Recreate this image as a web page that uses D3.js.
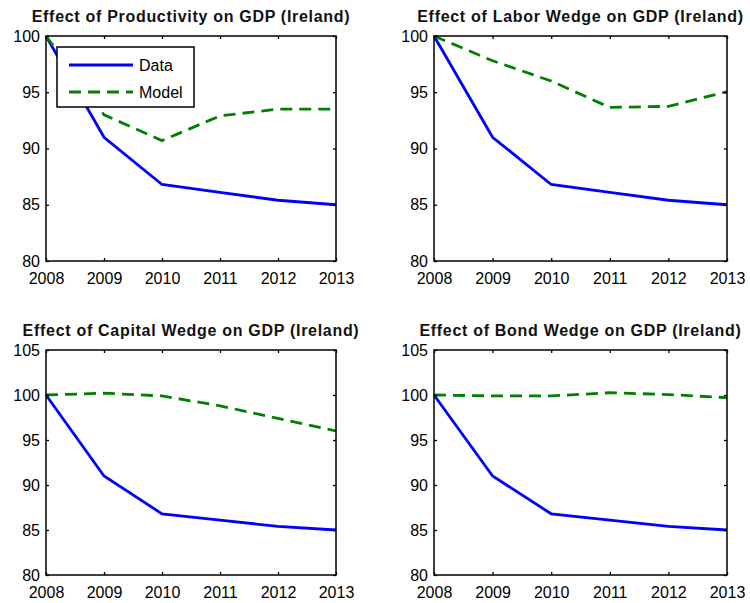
<!DOCTYPE html>
<html>
<head>
<meta charset="utf-8">
<script src="https://cdn.jsdelivr.net/npm/d3@7"></script>
<style>
  body { margin: 0; background: #fff; }
  svg { display: block; font-family: "Liberation Sans", Arial, sans-serif; }
</style>
</head>
<body>
<div id="chart"></div>
<script>
const years = [2008, 2009, 2010, 2011, 2012, 2013];
const dataGDP = [100, 91.0, 86.8, 86.1, 85.4, 85.0];
const modelProductivity = [100, 93.0, 90.7, 92.9, 93.5, 93.5];
const modelLabor = [100, 97.8, 96.0, 93.65, 93.75, 95.05];
const modelCapital = [100, 100.2, 99.9, 98.8, 97.4, 96.0];
const modelBond = [100, 99.9, 99.9, 100.25, 100.05, 99.7];
const titles = [
    "Effect of Productivity on GDP (Ireland)",
    "Effect of Labor Wedge on GDP (Ireland)",
    "Effect of Capital Wedge on GDP (Ireland)",
    "Effect of Bond Wedge on GDP (Ireland)"
];
const yTicksTop = [80, 85, 90, 95, 100];
const yTicksBottom = [80, 85, 90, 95, 100, 105];
const legendLabels = ["Data", "Model"];

const W = 750, H = 603;
const svg = d3.select("#chart").append("svg")
    .attr("width", W)
    .attr("height", H);

// panel boxes in pixels
const panels = [
    {x0: 46, x1: 336, y0: 36, y1: 261, model: modelProductivity, ticks: yTicksTop, title: titles[0], legend: true},
    {x0: 434, x1: 727, y0: 36, y1: 261, model: modelLabor, ticks: yTicksTop, title: titles[1]},
    {x0: 46, x1: 336, y0: 350, y1: 575, model: modelCapital, ticks: yTicksBottom, title: titles[2]},
    {x0: 434, x1: 727, y0: 350, y1: 575, model: modelBond, ticks: yTicksBottom, title: titles[3]}
];

const blue = "#0000ff", green = "#008000";

panels.forEach(p => {
    const x = d3.scaleLinear().domain([2008, 2013]).range([p.x0, p.x1]);
    const y = d3.scaleLinear().domain([d3.min(p.ticks), d3.max(p.ticks)]).range([p.y1, p.y0]);
    const g = svg.append("g");

    // title
    g.append("text")
        .attr("x", (p.x0 + p.x1) / 2)
        .attr("y", p.y0 - 14)
        .attr("text-anchor", "middle")
        .attr("font-size", 16)
        .attr("font-weight", "bold")
        .attr("letter-spacing", "0.7px")
        .attr("fill", "#111")
        .text(p.title);

    const line = d3.line()
        .x((d, i) => x(years[i]))
        .y(d => y(d));

    g.append("path")
        .datum(dataGDP)
        .attr("d", line)
        .attr("fill", "none")
        .attr("stroke", blue)
        .attr("stroke-width", 2.8);

    g.append("path")
        .datum(p.model)
        .attr("d", line)
        .attr("fill", "none")
        .attr("stroke", green)
        .attr("stroke-width", 2.8)
        .attr("stroke-dasharray", "12,7");

    // axes: tick marks inside, labels outside (matlab style)
    const xAxis = g.append("g")
        .attr("transform", `translate(0,${p.y1})`)
        .call(d3.axisBottom(x).tickValues(years).tickFormat(d3.format("d")).tickSize(-3).tickPadding(12));
    const xTop = g.append("g")
        .attr("transform", `translate(0,${p.y0})`)
        .call(d3.axisTop(x).tickValues(years).tickFormat("").tickSize(-3));
    const yAxis = g.append("g")
        .attr("transform", `translate(${p.x0},0)`)
        .call(d3.axisLeft(y).tickValues(p.ticks).tickSize(-3).tickPadding(6));
    const yRight = g.append("g")
        .attr("transform", `translate(${p.x1},0)`)
        .call(d3.axisRight(y).tickValues(p.ticks).tickFormat("").tickSize(-3));

    [xAxis, xTop, yAxis, yRight].forEach(a => {
        a.select(".domain").remove();
        a.selectAll("line").attr("stroke", "#000").attr("stroke-width", 1.3);
        a.selectAll("text").attr("font-size", 16).attr("fill", "#000")
            .attr("font-family", "'Liberation Sans', Arial, sans-serif");
    });

    g.append("rect")
        .attr("x", p.x0).attr("y", p.y0)
        .attr("width", p.x1 - p.x0).attr("height", p.y1 - p.y0)
        .attr("fill", "none")
        .attr("stroke", "#000")
        .attr("stroke-width", 1.5);

    if (p.legend) {
        const lg = g.append("g").attr("transform", "translate(57,47)");
        lg.append("rect")
            .attr("width", 137).attr("height", 60)
            .attr("fill", "#fff").attr("stroke", "#000").attr("stroke-width", 1.5);
        const rows = lg.selectAll(".row")
            .data(legendLabels)
            .enter().append("g")
            .attr("transform", (d, i) => `translate(0,${18 + i * 27})`);
        rows.append("line")
            .attr("x1", 12).attr("x2", 76)
            .attr("stroke", (d, i) => i === 0 ? blue : green)
            .attr("stroke-width", 2.8)
            .attr("stroke-dasharray", (d, i) => i === 0 ? null : "12,7");
        rows.append("text")
            .attr("x", 82)
            .attr("dy", "0.36em")
            .attr("font-size", 16)
            .attr("fill", "#000")
            .text(d => d);
    }
});
</script>
</body>
</html>
